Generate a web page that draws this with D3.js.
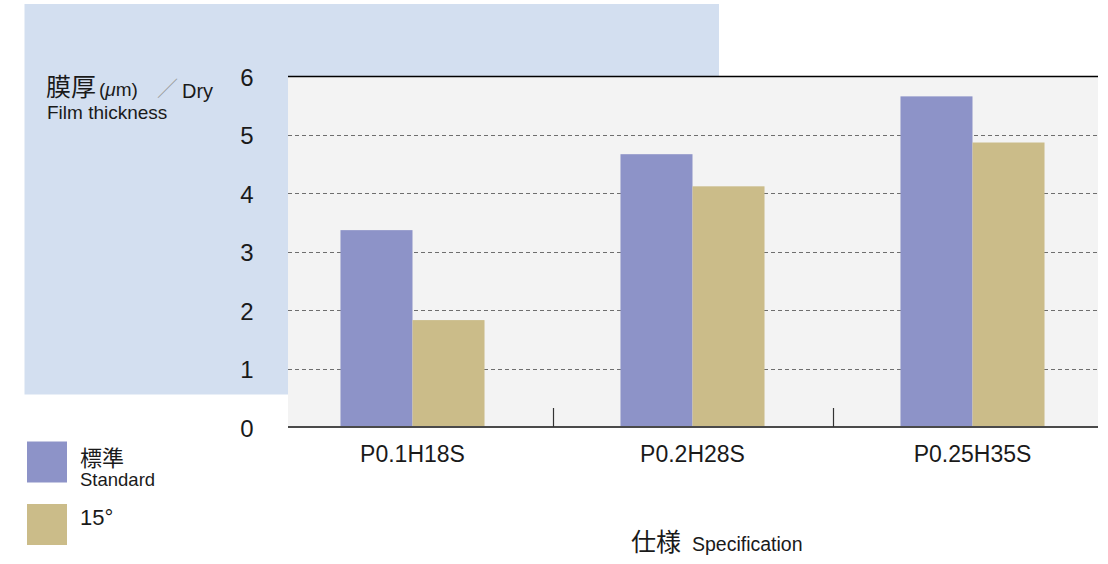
<!DOCTYPE html>
<html>
<head>
<meta charset="utf-8">
<script src="https://cdn.jsdelivr.net/npm/d3@7"></script>
<style>
  html, body { margin: 0; padding: 0; background: #ffffff; }
  svg { display: block; }
  text { font-family: "Liberation Sans", Arial, "Noto Sans CJK JP", sans-serif; fill: #1a1a1a; }
  .cjk { font-family: "Noto Sans CJK JP", "Liberation Sans", sans-serif; }
</style>
</head>
<body>
<svg id="chart" width="1108" height="564"></svg>
<script>
// Film thickness by specification, two coating angles
const categories = ["P0.1H18S", "P0.2H28S", "P0.25H35S"];
const seriesKeys = ["standard", "deg15"];
const standardValues = [3.37, 4.67, 5.66];
const deg15Values = [1.83, 4.12, 4.87];
const yTicks = [0, 1, 2, 3, 4, 5, 6];
const gridTicks = [1, 2, 3, 4, 5];
const seriesColors = { standard: "#8d93c8", deg15: "#cbbc89" };

const svg = d3.select("#chart");

// pale panel behind the y-axis title
svg.append("rect")
  .attr("x", 24.5).attr("y", 4).attr("width", 694.5).attr("height", 390.5)
  .attr("fill", "#d3dff0");

const plot = { left: 288, right: 1098, top: 76.5, bottom: 427 };

const y = d3.scaleLinear().domain([0, 6]).range([plot.bottom, plot.top]);
const x0 = d3.scaleBand().domain(categories).range([272.5, 1112.5]).padding(0);
const x1 = d3.scaleBand().domain(seriesKeys).range([0, x0.bandwidth()])
  .paddingInner(0).paddingOuter(0.944);

// plot background
svg.append("rect")
  .attr("x", plot.left).attr("y", plot.top)
  .attr("width", plot.right - plot.left).attr("height", plot.bottom - plot.top)
  .attr("fill", "#f3f3f3");

// dashed gridlines
svg.append("g").selectAll("line").data(gridTicks).join("line")
  .attr("x1", plot.left).attr("x2", plot.right)
  .attr("y1", d => Math.round(y(d)) + 0.5).attr("y2", d => Math.round(y(d)) + 0.5)
  .attr("stroke", "#6e6e6e").attr("stroke-width", 1.2)
  .attr("stroke-dasharray", "4,3");

// bars
const rows = categories.map((c, i) => ({ cat: c, standard: standardValues[i], deg15: deg15Values[i] }));
const groups = svg.append("g").selectAll("g").data(rows).join("g")
  .attr("transform", d => `translate(${x0(d.cat)},0)`);
groups.selectAll("rect")
  .data(d => seriesKeys.map(k => ({ key: k, value: d[k] })))
  .join("rect")
  .attr("x", d => x1(d.key))
  .attr("width", x1.bandwidth())
  .attr("y", d => y(d.value))
  .attr("height", d => y(0) - y(d.value))
  .attr("fill", d => seriesColors[d.key]);

// top border and baseline
svg.append("line")
  .attr("x1", plot.left).attr("x2", plot.right)
  .attr("y1", plot.top).attr("y2", plot.top)
  .attr("stroke", "#000").attr("stroke-width", 1.6);
svg.append("line")
  .attr("x1", plot.left).attr("x2", plot.right)
  .attr("y1", plot.bottom).attr("y2", plot.bottom)
  .attr("stroke", "#4a4a4a").attr("stroke-width", 2);

// category separators
svg.append("g").selectAll("line").data(categories.slice(1)).join("line")
  .attr("x1", d => Math.round(x0(d)) + 0.5).attr("x2", d => Math.round(x0(d)) + 0.5)
  .attr("y1", 408).attr("y2", plot.bottom)
  .attr("stroke", "#333").attr("stroke-width", 1.2);

// y tick labels
svg.append("g").selectAll("text").data(yTicks).join("text")
  .attr("x", 247).attr("y", d => y(d) + 9.5)
  .attr("text-anchor", "middle")
  .attr("font-size", 24)
  .text(d => d);

// category labels
svg.append("g").selectAll("text").data(categories).join("text")
  .attr("x", d => x0(d) + x0.bandwidth() / 2).attr("y", 462)
  .attr("text-anchor", "middle")
  .attr("font-size", 23)
  .text(d => d);

// y-axis title
svg.append("text").attr("class", "cjk").attr("x", 46).attr("y", 96)
  .attr("font-size", 25).text("膜厚");
const unit = svg.append("text").attr("x", 99).attr("y", 96).attr("font-size", 19);
unit.append("tspan").text("(");
unit.append("tspan").attr("font-style", "italic").text("μ");
unit.append("tspan").text("m)");
svg.append("text").attr("class", "cjk").attr("x", 157).attr("y", 96)
  .attr("font-size", 21).style("fill", "#9a9a9a").text("／");
svg.append("text").attr("x", 182).attr("y", 97.5)
  .attr("font-size", 20).text("Dry");
svg.append("text").attr("x", 47).attr("y", 119)
  .attr("font-size", 19).text("Film thickness");

// legend
const legend = [
  { key: "standard", main: "標準", sub: "Standard", y: 441.5 },
  { key: "deg15", main: "15°", sub: null, y: 504 }
];
svg.append("g").selectAll("rect").data(legend).join("rect")
  .attr("x", 27).attr("y", d => d.y).attr("width", 40).attr("height", 41)
  .attr("fill", d => seriesColors[d.key]);
svg.append("text").attr("class", "cjk").attr("x", 80).attr("y", 466)
  .attr("font-size", 22).text(legend[0].main);
svg.append("text").attr("x", 80).attr("y", 486)
  .attr("font-size", 18.5).text(legend[0].sub);
svg.append("text").attr("x", 80).attr("y", 524.5)
  .attr("font-size", 22).text(legend[1].main);

// x-axis title
svg.append("text").attr("class", "cjk").attr("x", 631).attr("y", 551)
  .attr("font-size", 25).text("仕様");
svg.append("text").attr("x", 692).attr("y", 551)
  .attr("font-size", 19.5).text("Specification");
</script>
</body>
</html>
